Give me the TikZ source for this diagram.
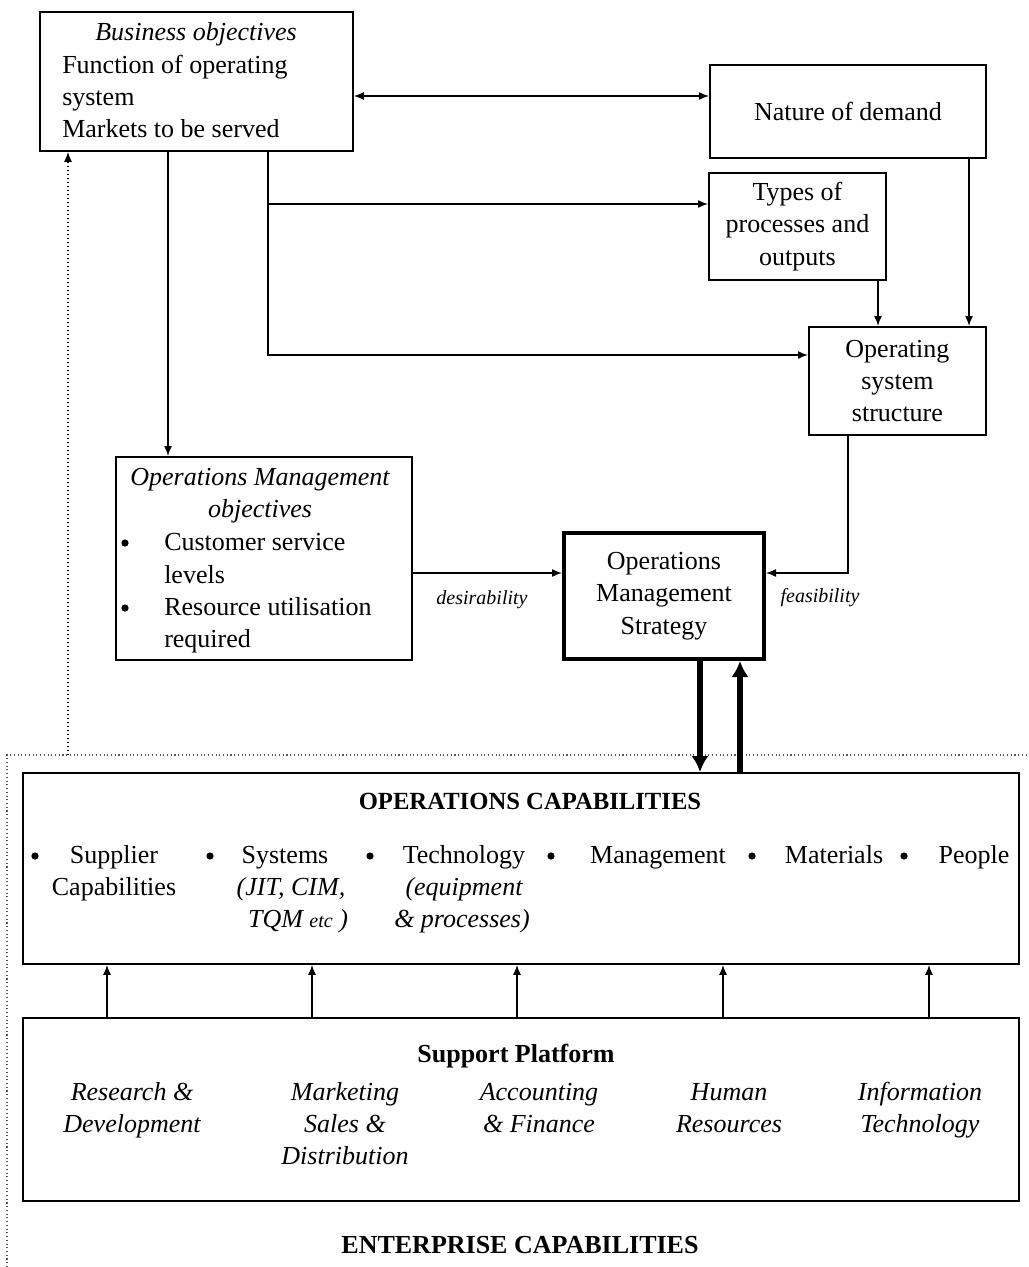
\documentclass[tikz,border=0pt]{standalone}
\usepackage{fontspec}
\setmainfont{Liberation Serif}
\usetikzlibrary{arrows.meta}
\newcommand\mainfs{\fontsize{19.5}{24.3}\selectfont}
\newcommand\smallfs{\fontsize{15}{18}\selectfont}
\tikzset{
  box/.style={draw, line width=1.4pt, inner sep=0pt, anchor=north west, align=center, font=\mainfs},
  tx/.style={inner sep=0pt, font=\mainfs, anchor=base},
  txl/.style={inner sep=0pt, font=\mainfs, anchor=base west},
  lbl/.style={inner sep=0pt, font=\smallfs\itshape, anchor=base},
  dot/.style={circle, fill, inner sep=0pt, minimum size=5.4pt},
  conn/.style={line width=1.1pt, -{Latex[length=7.5pt,width=6pt]}},
  biconn/.style={line width=1.1pt, {Latex[length=7.5pt,width=6pt]}-{Latex[length=7.5pt,width=6pt]}},
  heavy/.style={line width=3.8pt, -{Latex[length=12pt,width=13pt]}},
  frame/.style={line width=0.8pt, dotted, gray!70!black},
  dotconn/.style={line width=1pt, dotted, -{Latex[length=7.5pt,width=6pt]}},
}
\begin{document}
\begin{tikzpicture}[x=0.75pt, y=-0.75pt]
\useasboundingbox (0,0) rectangle (1028,1267);

% ---- boxes ----
\node[box, minimum width=234.75pt, minimum height=104.25pt] (bo) at (39,11) {};
\node[box, minimum width=207pt, minimum height=69.75pt] (nd) at (709,64) {Nature of demand};
\node[box, minimum width=132.75pt, minimum height=80.25pt] (tp) at (708,172) {Types of\\processes and\\outputs};
\node[box, minimum width=132.75pt, minimum height=81pt] (oss) at (808,326) {Operating\\system\\structure};
\node[box, minimum width=222pt, minimum height=152.25pt] (omo) at (115,456) {};
\node[box, line width=3pt, minimum width=150pt, minimum height=94.5pt] (oms) at (562,531) {Operations\\Management\\Strategy};
\node[box, minimum width=747pt, minimum height=143.25pt] (oc) at (22,772) {};
\node[box, minimum width=747pt, minimum height=137.25pt] (sp) at (22,1017) {};

% ---- business objectives text ----
\node[tx] (bo1) at (196,40) {\itshape Business objectives};
\node[txl] (bo2) at (62,73) {Function of operating};
\node[txl] (bo3) at (62,105) {system};
\node[txl] (bo4) at (62,137) {Markets to be served};

% ---- operations management objectives text ----
\node[tx] (om1) at (260,485) {\itshape Operations Management};
\node[tx] (om2) at (260,517) {\itshape objectives};
\node[dot] (omb1) at (125,543) {};
\node[txl] (om3) at (164,550) {Customer service};
\node[txl] (om4) at (164,583) {levels};
\node[dot] (omb2) at (125,608) {};
\node[txl] (om5) at (164,615) {Resource utilisation};
\node[txl] (om6) at (164,647) {required};

% ---- operations capabilities text ----
\node[tx, font=\fontsize{18.5}{22}\selectfont\bfseries] (octitle) at (530,809) {OPERATIONS CAPABILITIES};
\node[dot] (ocb1) at (35,856) {};
\node[tx] (oc1a) at (114,863) {Supplier};
\node[tx] (oc1b) at (114,895) {Capabilities};
\node[dot] (ocb2) at (210,856) {};
\node[tx] (oc2a) at (285,863) {Systems};
\node[tx] (oc2b) at (291,895) {\itshape (JIT, CIM,};
\node[tx] (oc2c) at (298,927) {\itshape TQM {\smallfs etc} )};
\node[dot] (ocb3) at (370,856) {};
\node[tx] (oc3a) at (464,863) {Technology};
\node[tx] (oc3b) at (464,895) {\itshape (equipment};
\node[tx] (oc3c) at (462,927) {\itshape \& processes)};
\node[dot] (ocb4) at (551,856) {};
\node[tx] (oc4) at (658,863) {Management};
\node[dot] (ocb5) at (752,856) {};
\node[tx] (oc5) at (834,863) {Materials};
\node[dot] (ocb6) at (904,856) {};
\node[tx] (oc6) at (974,863) {People};

% ---- support platform text ----
\node[tx, font=\mainfs\bfseries] (sptitle) at (516,1062) {Support Platform};
\node[tx, font=\mainfs\itshape] (sp1a) at (132,1100) {Research \&};
\node[tx, font=\mainfs\itshape] (sp1b) at (132,1132) {Development};
\node[tx, font=\mainfs\itshape] (sp2a) at (345,1100) {Marketing};
\node[tx, font=\mainfs\itshape] (sp2b) at (345,1132) {Sales \&};
\node[tx, font=\mainfs\itshape] (sp2c) at (345,1164) {Distribution};
\node[tx, font=\mainfs\itshape] (sp3a) at (539,1100) {Accounting};
\node[tx, font=\mainfs\itshape] (sp3b) at (539,1132) {\& Finance};
\node[tx, font=\mainfs\itshape] (sp4a) at (729,1100) {Human};
\node[tx, font=\mainfs\itshape] (sp4b) at (729,1132) {Resources};
\node[tx, font=\mainfs\itshape] (sp5a) at (920,1100) {Information};
\node[tx, font=\mainfs\itshape] (sp5b) at (920,1132) {Technology};

% ---- enterprise capabilities frame ----
\coordinate (fbl) at (7,1267);
\coordinate (ftl) at (7,755);
\coordinate (ftr) at (1028,755);
\draw[frame] (fbl) -- (ftl) -- (ftr);
\node[tx, font=\fontsize{19.5}{24}\selectfont\bfseries] (enttitle) at (520,1253) {ENTERPRISE CAPABILITIES};

% ---- routing coordinates ----
\coordinate (jd) at (530,96);
\coordinate (b1) at (268,355);
\coordinate (b2) at (268,204);
\coordinate (b3) at (168,300);
\coordinate (c1) at (969,240);
\coordinate (c2) at (878,300);
\coordinate (c3) at (848,573);
\coordinate (xd) at (700,700);
\coordinate (xu) at (740,700);
\coordinate (ent) at (68,755);

% ---- connectors ----
\draw[biconn] (bo.east |- jd) -- (nd.west |- jd);
\draw[conn] (bo.south -| b1) -- (b1) -- (oss.west |- b1);
\draw[conn] (b2) -- (tp.west |- b2);
\draw[conn] (bo.south -| b3) -- (omo.north -| b3);
\draw[conn] (nd.south -| c1) -- (oss.north -| c1);
\draw[conn] (tp.south -| c2) -- (oss.north -| c2);
\draw[conn] (oss.south -| c3) -- (c3) -- (oms.east |- c3);
\draw[conn] (omo.east |- c3) -- (oms.west |- c3);
\node[lbl] (des) at (482,604) {desirability};
\node[lbl] (fea) at (820,602) {feasibility};
\draw[heavy] (oms.south -| xd) -- (oc.north -| xd);
\draw[heavy] (oc.north -| xu) -- (oms.south -| xu);
\draw[dotconn] (ent) -- (bo.south -| ent);
\foreach \x [count=\i] in {107,312,517,723,929} {
  \coordinate (u\i) at (\x,990);
  \draw[conn] (sp.north -| u\i) -- (oc.south -| u\i);
}
\end{tikzpicture}
\end{document}
